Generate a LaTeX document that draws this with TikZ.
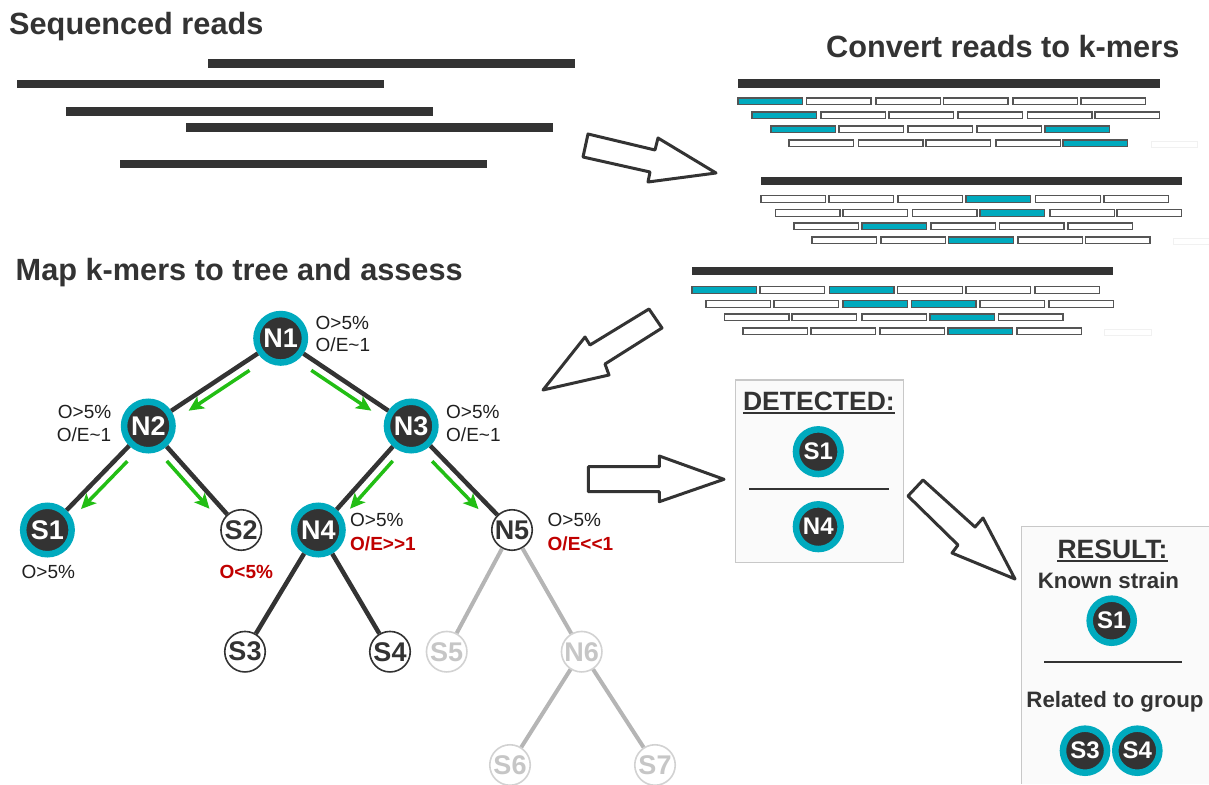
\documentclass[tikz,border=0pt]{standalone}
\usepackage{fontspec}
\setmainfont{Liberation Sans}
\usetikzlibrary{calc,arrows.meta}
\definecolor{dk}{HTML}{333333}
\definecolor{tl}{RGB}{0,170,190}
\definecolor{gr}{RGB}{34,190,20}
\definecolor{rd}{RGB}{192,0,0}
\definecolor{lg}{HTML}{B5B5B5}
\definecolor{lgn}{HTML}{D2D2D2}
\definecolor{lgt}{HTML}{C6C6C6}
\definecolor{kb}{HTML}{555555}
\definecolor{pb}{HTML}{C8C8C8}
\definecolor{pf}{HTML}{FAFAFA}
\definecolor{fnt}{HTML}{F1F1F1}
\newcommand\hdfont{\fontsize{30.7pt}{34pt}\selectfont\bfseries}
\newcommand\lblfont{\fontsize{19pt}{22pt}\selectfont}
\newcommand\nfont{\fontsize{27pt}{30pt}\selectfont\bfseries}
\newcommand\sfont{\fontsize{24pt}{26pt}\selectfont\bfseries}
\newcommand\dfont{\fontsize{26.5pt}{30pt}\selectfont\bfseries}
\newcommand\kfont{\fontsize{22.3pt}{26pt}\selectfont\bfseries}
\begin{document}
\begin{tikzpicture}[x=1pt,y=-1pt,
  tnode/.style={circle, fill=dk, draw=tl, line width=6.5pt, minimum size=48.5pt, inner sep=0pt, text=white, font=\nfont},
  pnode/.style={circle, fill=white, draw=dk, line width=1.6pt, minimum size=40.5pt, inner sep=0pt, text=dk, font=\nfont},
  gnode/.style={pnode, draw=lgn, text=lgt},
  snode/.style={tnode, minimum size=44.7pt, font=\sfont},
  tedge/.style={dk, line width=4.5pt},
  gedge/.style={lg, line width=4pt},
  garrow/.style={gr, line width=3.5pt, -{Stealth[length=15pt,width=14pt,inset=3.5pt]}},
  hd/.style={font=\hdfont, text=dk, inner sep=0pt},
  lbl/.style={font=\lblfont, text=black!88, inner sep=0pt},
  rlbl/.style={font=\lblfont\bfseries, text=rd, inner sep=0pt},
  ptitle/.style={font=\dfont, text=dk, inner sep=0pt},
  ptext/.style={font=\kfont, text=dk, inner sep=0pt},
  kbox/.style={draw=kb, line width=1.2pt},
  bigarrow/.style={draw=dk, line width=3pt, fill=white, line join=round},
  panel/.style={draw=pb, line width=1.5pt, fill=pf},
  rule/.style={dk, line width=1.6pt}]
\useasboundingbox (0,0) rectangle (1209,784);

% headings
\node[hd, anchor=base west] (hSeq) at (9,34.3) {Sequenced reads};
\node[hd, anchor=base west] (hConv) at (826,57.3) {Convert reads to k-mers};
\node[hd, anchor=base west] (hMap) at (15.5,280) {Map k-mers to tree and assess};

% sequenced reads
\foreach \x/\y in {207.8/63.5, 16.5/84.2, 65.8/111.5, 186.4/127.5, 120.2/164.2}
  \fill[dk] (\x,\y-4.2) rectangle ++(367,8.4);

% k-mer blocks
\fill[dk] (738,79) rectangle (1160,87.7);
\fill[dk] (760.6,176.7) rectangle (1182,185);
\fill[dk] (691.8,267) rectangle (1113,275.3);
\newcommand\kmrow[2]{\foreach \xx/\cc in {#2} \draw[kbox, fill=\cc] (\xx,#1) rectangle ++(64.5,6.8);}
\kmrow{98}{738/tl,806.5/white,876/white,943.5/white,1013/white,1081/white}
\kmrow{112}{752/tl,821/white,889/white,958/white,1027.5/white,1095/white}
\kmrow{126}{771/tl,839/white,908/white,977/white,1045/tl}
\kmrow{140}{789/white,858.5/white,926/white,996/white,1063/tl}
\kmrow{195.5}{761/white,829/white,898/white,966/tl,1035.6/white,1104/white}
\kmrow{209.5}{775.5/white,843/white,912.5/white,980/tl,1050/white,1117/white}
\kmrow{223}{794/white,862/tl,931/white,999.5/white,1068/white}
\kmrow{237}{812/white,881/white,948.6/tl,1018/white,1085.5/white}
\kmrow{286.5}{692/tl,760/white,829.5/tl,897.6/white,966/white,1035/white}
\kmrow{300.3}{706/white,774/white,843/tl,911.4/tl,980/white,1049/white}
\kmrow{314}{724.5/white,792/white,862/white,930/tl,998.5/white}
\kmrow{328}{743/white,811/white,880/white,948/tl,1017/white}
\draw[fnt, line width=0.8pt] (1151,141) rectangle (1197,147);
\draw[fnt, line width=0.8pt] (1173.6,238) rectangle (1212,244);
\draw[fnt, line width=0.8pt] (1104,329) rectangle (1151,335);

% big hollow arrows
\draw[bigarrow] (588,134) -- (655,150) -- (658,138) -- (716,173) -- (648,182) -- (650,172) -- (583,157) -- cycle;
\draw[bigarrow] (649,309) -- (590,345) -- (585,337) -- (543,390) -- (609,375) -- (605,364) -- (662,328) -- cycle;
\draw[bigarrow] (588.3,466.7) -- (659.3,466.7) -- (659.3,456) -- (724,479.3) -- (659.3,501.7) -- (659.3,491.7) -- (588.3,491.7) -- cycle;
\draw[bigarrow] (923,480) -- (975,527) -- (983,518) -- (1015,579) -- (952,553) -- (958,545) -- (908,496) -- cycle;

% tree nodes
\node[tnode] (N1) at (280.7,338.3) {N1};
\node[tnode] (N2) at (148.3,426) {N2};
\node[tnode] (N3) at (411.2,426) {N3};
\node[tnode] (S1) at (47.4,530) {S1};
\node[pnode] (S2) at (241.2,530) {S2};
\node[tnode] (N4) at (318.3,530) {N4};
\node[pnode] (N5) at (512,530) {N5};
\node[pnode] (S3) at (245,651.7) {S3};
\node[pnode] (S4) at (390,651.7) {S4};
\node[gnode] (S5) at (446.7,651.7) {S5};
\node[gnode] (N6) at (581.7,651.7) {N6};
\node[gnode] (S6) at (510,765) {S6};
\node[gnode] (S7) at (655,765) {S7};

% tree edges
\draw[tedge] (N1) -- (N2) (N1) -- (N3) (N2) -- (S1) (N2) -- (S2)
  (N3) -- (N4) (N3) -- (N5) (N4) -- (S3) (N4) -- (S4);
\draw[gedge] (N5) -- (S5) (N5) -- (N6) (N6) -- (S6) (N6) -- (S7);

% green arrows
\newcommand\garr[3]{\draw[garrow] ($(#1)!0.275!(#2)!9.5pt!#3:(#2)$) -- ($(#1)!0.735!(#2)!9.5pt!#3:(#2)$);}
\garr{N1}{N2}{90}
\garr{N1}{N3}{-90}
\garr{N2}{S1}{90}
\garr{N2}{S2}{-90}
\garr{N3}{N4}{90}
\garr{N3}{N5}{-90}

% labels
\node[lbl, anchor=base west] (l1a) at (315.5,329.5) {O>5\%};
\node[lbl, anchor=base west] (l1b) at (315.5,351.5) {O/E\textasciitilde1};
\node[lbl, anchor=base east] (l2a) at (111.5,418.5) {O>5\%};
\node[lbl, anchor=base east] (l2b) at (111.5,441.5) {O/E\textasciitilde1};
\node[lbl, anchor=base west] (l3a) at (446,418.5) {O>5\%};
\node[lbl, anchor=base west] (l3b) at (446,441.5) {O/E\textasciitilde1};
\node[lbl, anchor=base west] (ls1) at (21.5,578) {O>5\%};
\node[rlbl, anchor=base west] (ls2) at (219.5,578) {O<5\%};
\node[lbl, anchor=base west] (l4a) at (350,526.5) {O>5\%};
\node[rlbl, anchor=base west] (l4b) at (350,550) {O/E>\kern0pt>1};
\node[lbl, anchor=base west] (l5a) at (547.5,526.5) {O>5\%};
\node[rlbl, anchor=base west] (l5b) at (547.5,550) {O/E<\kern0pt<1};

% detected panel
\draw[panel] (735.7,380) rectangle (903.3,562.3);
\node[ptitle, anchor=base] (det) at (818.9,410.7) {DETECTED:};
\draw[rule] ([yshift=-2pt]det.base west) -- ([yshift=-2pt]det.base east);
\node[snode] (dS1) at (818.3,451.7) {S1};
\draw[rule] (749.3,489) -- (889,489);
\node[snode] (dN4) at (818.3,526.7) {N4};

% result panel
\fill[pf] (1021.7,526.7) rectangle (1209,784);
\draw[pb, line width=1.5pt] (1209,526.7) -- (1021.7,526.7) -- (1021.7,784);
\node[ptitle, anchor=base] (res) at (1112.5,558.3) {RESULT:};
\draw[rule] ([yshift=-2.5pt]res.base west) -- ([yshift=-2.5pt]res.base east);
\node[ptext, anchor=base] (known) at (1108.5,588.3) {Known strain};
\node[snode, minimum size=44.1pt] (rS1) at (1111.7,620.7) {S1};
\draw[rule] (1044,662) -- (1182.3,662);
\node[ptext, anchor=base] (rel) at (1115,707.5) {Related to group};
\node[snode, minimum size=44.1pt] (rS3) at (1085,750.7) {S3};
\node[snode, minimum size=44.1pt] (rS4) at (1137.3,750.7) {S4};
\end{tikzpicture}
\end{document}
